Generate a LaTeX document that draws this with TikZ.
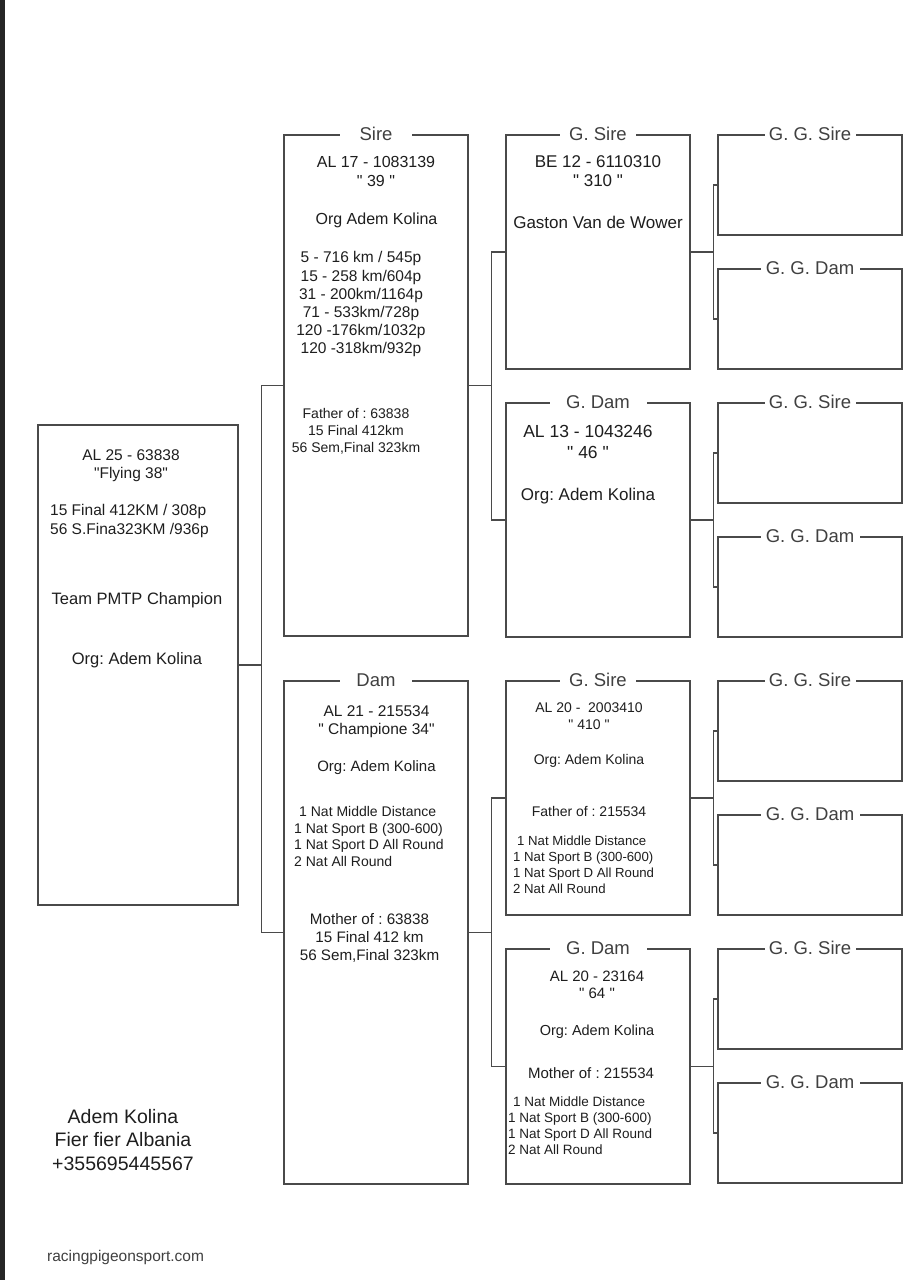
\documentclass[tikz,border=0pt]{standalone}
\usepackage{fontspec}
\setmainfont{Liberation Sans}[Ligatures=TeXOff]
\usetikzlibrary{positioning}
\definecolor{ln}{HTML}{4A4A4A}
\definecolor{tx}{HTML}{1E1E1E}
\newcommand{\fsz}[2]{\fontsize{#1}{#2}\selectfont}

\begin{document}
\frenchspacing
\begin{tikzpicture}[x=1pt, y=-1pt,
      box/.style={draw=ln, line width=1.4pt, inner sep=0pt, minimum width=184pt},
      ttl/.style={fill=white, text=tx!85, inner sep=0pt, minimum height=16pt,
                  font=\fsz{18.5}{20}},
      txt/.style={text=tx, align=center, inner sep=0pt, anchor=north},
      lst/.style={text=tx, align=left, inner sep=0pt, anchor=north west},
      conn/.style={draw=ln, line width=1.4pt},
   ]
   \useasboundingbox[fill=white] (0,0) rectangle (922,1280);
   \fill[black!85] (0,0) rectangle (5,1280);

   % ---- boxes ----
   \node[box, minimum width=200pt, minimum height=480pt] (main) at (138, 665) {};
   \node[box, minimum height=501pt] (sire) at (376, 385.5) {};
   \node[box, minimum height=503pt] (dam)  at (376, 932.5) {};
   \node[box, minimum height=234pt] (gsA)  at (598, 252) {};
   \node[box, minimum height=234pt] (gdA)  at (598, 520) {};
   \node[box, minimum height=234pt] (gsB)  at (598, 798) {};
   \node[box, minimum height=235pt] (gdB)  at (598, 1066.5) {};

   \node[ttl, minimum width=72pt] at (sire.north) {Sire};
   \node[ttl, minimum width=72pt] at (dam.north)  {Dam};
   \node[ttl, minimum width=76pt] at (gsA.north)  {G. Sire};
   \node[ttl, minimum width=97pt] at (gdA.north)  {G. Dam};
   \node[ttl, minimum width=76pt] at (gsB.north)  {G. Sire};
   \node[ttl, minimum width=97pt] at (gdB.north)  {G. Dam};

   % ---- connectors ----
   \draw[conn] (main.east) -- ++(23,0) |- (sire.west);
   \draw[conn] (main.east) -- ++(23,0) |- (dam.west);
   \draw[conn] (sire.east) -- ++(23,0) |- (gsA.west);
   \draw[conn] (sire.east) -- ++(23,0) |- (gdA.west);
   \draw[conn] (dam.east)  -- ++(23,0) |- (gsB.west);
   \draw[conn] (dam.east)  -- ++(23,0) |- (gdB.west);

   % ---- great grandparents ----
   \foreach \p/\y in {gsA/185, gdA/453, gsB/731, gdB/999}{
         \node[box, minimum height=100pt] (\p-s) at (810, \y) {};
         \node[box, minimum height=100pt] (\p-d) at (810, {\y+134}) {};
         \node[ttl, minimum width=91pt] at (\p-s.north) {G. G. Sire};
         \node[ttl, minimum width=99pt] at (\p-d.north) {G. G. Dam};
         \draw[conn] (\p.east) -- ++(23,0) |- (\p-s.west);
         \draw[conn] (\p.east) -- ++(23,0) |- (\p-d.west);
      }

   % ---- main bird ----
   \node[txt, font=\fsz{15.5}{18.5}] (mainId) at (131, 449.4) {AL 25 - 63838\\"Flying 38"};
   \node[lst, font=\fsz{15.5}{19}] (mainRes) at (50, 504.4) {15 Final 412KM / 308p\\56 S.Fina323KM /936p};
   \node[txt, font=\fsz{16.5}{19}] (mainTeam) at (137, 592) {Team PMTP Champion};
   \node[txt, font=\fsz{16.5}{19}] (mainOrg) at (137, 652) {Org: Adem Kolina};

   % ---- sire ----
   \node[txt, font=\fsz{16}{19}] (sireId) at (376, 156.2) {AL 17 - 1083139\\" 39 "};
   \node[txt, font=\fsz{16}{19}] (sireOrg) at (376.5, 213.2) {Org Adem Kolina};
   \node[txt, font=\fsz{15.5}{18.2}] (sireRes) at (361, 251.4)
      {5 - 716 km / 545p\\15 - 258 km/604p\\31 - 200km/1164p\\71 - 533km/728p\\120 -176km/1032p\\120 -318km/932p};
   \node[txt, font=\fsz{14}{17}] (sireOff) at (356, 408)
      {Father of : 63838\\15 Final 412km\\56 Sem,Final 323km};

   % ---- dam ----
   \node[txt, font=\fsz{15.5}{18}] (damId) at (376.5, 705.4) {AL 21 - 215534\\" Champione 34"};
   \node[txt, font=\fsz{15}{18}] (damOrg) at (376.5, 760.6) {Org: Adem Kolina};
   \node[lst, font=\fsz{14}{16.7}] (damRes) at (294, 806)
      {\hspace*{5pt}1 Nat Middle Distance\\1 Nat Sport B (300-600)\\1 Nat Sport D All Round\\2 Nat All Round};
   \node[txt, font=\fsz{15.2}{18}] (damOff) at (369.5, 913.5)
      {Mother of : 63838\\15 Final 412 km\\56 Sem,Final 323km};

   % ---- grandparents ----
   \node[txt, font=\fsz{17}{19}] (gsAId) at (598, 155.9) {BE 12 - 6110310\\" 310 "};
   \node[txt, font=\fsz{17}{19}] (gsAOrg) at (598, 215.9) {Gaston Van de Wower};

   \node[txt, font=\fsz{17.5}{21}] (gdAId) at (588, 424.7) {AL 13 - 1043246\\" 46 "};
   \node[txt, font=\fsz{17}{19}] (gdAOrg) at (588, 487.9) {Org: Adem Kolina};

   \node[txt, font=\fsz{14}{17}] (gsBId) at (589, 703) {AL 20 -\ \ 2003410\\" 410 "};
   \node[txt, font=\fsz{14}{17}] (gsBOrg) at (589, 754) {Org: Adem Kolina};
   \node[txt, font=\fsz{14}{17}] (gsBOff) at (589, 806) {Father of : 215534};
   \node[lst, font=\fsz{13.2}{16}] (gsBRes) at (513, 836.2)
      {\hspace*{4pt}1 Nat Middle Distance\\1 Nat Sport B (300-600)\\1 Nat Sport D All Round\\2 Nat All Round};

   \node[txt, font=\fsz{15}{17}] (gdBId) at (597, 970.6) {AL 20 - 23164\\" 64 "};
   \node[txt, font=\fsz{14.5}{17}] (gdBOrg) at (597, 1024.8) {Org: Adem Kolina};
   \node[txt, font=\fsz{15}{17}] (gdBOff) at (591, 1067.6) {Mother of : 215534};
   \node[lst, font=\fsz{13.5}{16}] (gdBRes) at (508, 1096.1)
      {\hspace*{5pt}1 Nat Middle Distance\\1 Nat Sport B (300-600)\\1 Nat Sport D All Round\\2 Nat All Round};

   % ---- owner ----
   \node[txt, font=\fsz{19.5}{23.5}] (owner) at (123, 1109)
      {Adem Kolina\\Fier fier Albania\\+355695445567};
   \node[text=tx!85, inner sep=0pt, anchor=west, font=\fsz{15.5}{18}] (site) at (47, 1257)
      {racingpigeonsport.com};
\end{tikzpicture}
\end{document}
